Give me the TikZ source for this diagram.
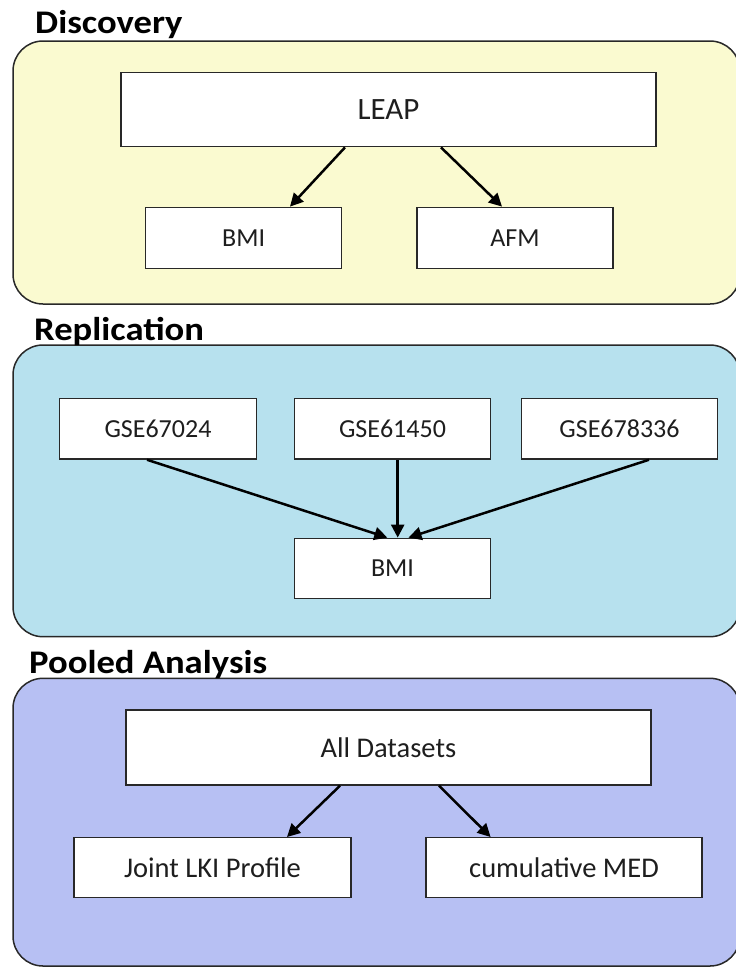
\documentclass[tikz,border=0pt]{standalone}
\usepackage{fontspec}
\setmainfont{Carlito}
\newfontfamily\titlefont[FakeStretch=1.11]{Carlito}
\usetikzlibrary{arrows.meta}
\definecolor{panelyellow}{RGB}{250,250,208}
\definecolor{panelblue}{RGB}{183,225,238}
\definecolor{panelpurple}{RGB}{183,192,243}
\definecolor{edgegray}{RGB}{40,40,40}
\definecolor{textgray}{RGB}{30,30,30}
\tikzset{
  panel/.style={draw=edgegray, line width=1.5pt, rounded corners=30pt},
  title/.style={anchor=base west, inner sep=0pt, font=\titlefont\fontsize{33}{33}\selectfont\bfseries, text=black},
  box/.style={draw=edgegray, fill=white, line width=1.4pt, inner sep=0pt, text=textgray},
  conn/.style={line width=2.5pt, -{Triangle[length=13pt,width=13pt]}},
}
\begin{document}
\begin{tikzpicture}[x=1pt,y=-1pt]
\useasboundingbox (0,0) rectangle (736,967);
\clip (0,0) rectangle (736,967);
% panels
\draw[panel, fill=panelyellow] (13,41) rectangle (740,304);
\draw[panel, fill=panelblue] (13,345) rectangle (740,636.7);
\draw[panel, fill=panelpurple] (13,678.3) rectangle (740,966);
% titles
\node[title] (t1) at (35,33) {Discovery};
\node[title] (t2) at (34,340.7) {Replication};
\node[title] (t3) at (29,673) {Pooled Analysis};
% discovery
\node[box, minimum width=535pt, minimum height=74pt, font=\fontsize{31}{31}\selectfont] (leap) at (388.5,109.7) {LEAP};
\node[box, minimum width=196pt, minimum height=61pt, font=\fontsize{26}{26}\selectfont] (bmi1) at (243.6,237.8) {BMI};
\node[box, minimum width=196pt, minimum height=61pt, font=\fontsize{26}{26}\selectfont] (afm) at (515,237.8) {AFM};
\draw[conn] ([xshift=-43.5pt]leap.south) -- ([xshift=46.4pt]bmi1.north);
\draw[conn] ([xshift=52.5pt]leap.south) -- ([xshift=-13pt]afm.north);
% replication
\node[box, minimum width=196.5pt, minimum height=60.7pt, font=\fontsize{26}{26}\selectfont] (g1) at (158,428.7) {GSE67024};
\node[box, minimum width=196.5pt, minimum height=60.7pt, font=\fontsize{26}{26}\selectfont] (g2) at (392.5,428.7) {GSE61450};
\node[box, minimum width=196.5pt, minimum height=60.7pt, font=\fontsize{26}{26}\selectfont] (g3) at (619.5,428.7) {GSE678336};
\node[box, minimum width=196.5pt, minimum height=60.4pt, font=\fontsize{26}{26}\selectfont] (bmi2) at (392.5,568.5) {BMI};
\draw[conn] ([xshift=-11pt]g1.south) -- ([xshift=-5.2pt]bmi2.north);
\draw[conn] ([xshift=5.2pt]g2.south) -- ([xshift=5.2pt]bmi2.north);
\draw[conn] ([xshift=29.5pt]g3.south) -- ([xshift=16pt]bmi2.north);
% pooled
\node[box, minimum width=525pt, minimum height=75pt, font=\fontsize{28.5}{28.5}\selectfont] (all) at (388.4,747.5) {All Datasets};
\node[box, minimum width=277pt, minimum height=60pt, font=\fontsize{28.5}{28.5}\selectfont] (joint) at (212.5,867.7) {Joint LKI Profile};
\node[box, minimum width=276pt, minimum height=60pt, font=\fontsize{28.5}{28.5}\selectfont] (cmed) at (564,867.7) {cumulative MED};
\draw[conn] ([xshift=-48.4pt]all.south) -- ([xshift=74.5pt]joint.north);
\draw[conn] ([xshift=50.6pt]all.south) -- ([xshift=-73.4pt]cmed.north);
\end{tikzpicture}
\end{document}
